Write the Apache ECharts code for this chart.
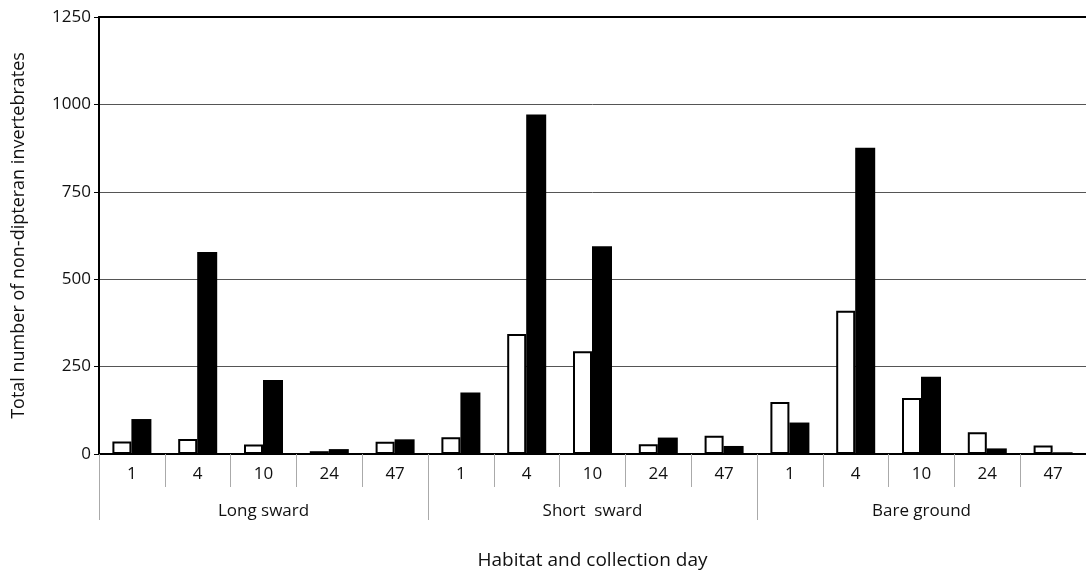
<!DOCTYPE html>
<html>
<head>
<meta charset="utf-8">
<script src="https://cdn.jsdelivr.net/npm/echarts@6/dist/echarts.min.js"></script>
<style>
html,body{margin:0;padding:0;background:#fff;}
#chart{width:1086px;height:575px;}
</style>
</head>
<body>
<div id="chart"></div>
<script>
const days = ['1','4','10','24','47','1','4','10','24','47','1','4','10','24','47'];
const habitats = ['Long sward','Short  sward','Bare ground'];
const whiteValues = [36, 43, 27, 8, 35, 48, 343, 294, 28, 52, 149, 410, 160, 62, 24];
const blackValues = [100, 578, 212, 14, 42, 176, 971, 594, 47, 23, 90, 876, 221, 16, 5];
const yTicks = [0, 250, 500, 750, 1000, 1250];

const FONT = 'Open Sans';
const chart = echarts.init(document.getElementById('chart'));
chart.setOption({
  animation: false,
  backgroundColor: '#fff',
  grid: {left: 99, right: 0, top: 17, bottom: 120, containLabel: false},
  xAxis: [
    {
      type: 'category', data: days, position: 'bottom',
      boundaryGap: true,
      axisLine: {show: true, onZero: false, lineStyle: {color: '#000', width: 2}},
      axisTick: {show: true, interval: 0, length: 33, lineStyle: {color: '#aaa', width: 1}},
      axisLabel: {interval: 0, margin: 12, fontFamily: FONT, fontSize: 17, color: '#111'},
      splitLine: {show: false}
    },
    {
      type: 'category', data: habitats, position: 'bottom',
      boundaryGap: true,
      axisLine: {show: false},
      axisTick: {show: true, interval: 0, length: 66, lineStyle: {color: '#aaa', width: 1}},
      axisLabel: {interval: 0, margin: 49, fontFamily: FONT, fontSize: 17, color: '#111'},
      name: 'Habitat and collection day', nameLocation: 'middle', nameGap: 97,
      nameTextStyle: {fontFamily: FONT, fontSize: 19, color: '#111'},
      splitLine: {show: false}
    },
    {
      type: 'category', data: days, position: 'top',
      axisLine: {show: true, onZero: false, lineStyle: {color: '#000', width: 2}},
      axisTick: {show: false}, axisLabel: {show: false}, splitLine: {show: false}
    }
  ],
  yAxis: {
    type: 'value', min: yTicks[0], max: yTicks[yTicks.length - 1], interval: 250,
    axisLine: {show: true, lineStyle: {color: '#000', width: 2}},
    axisTick: {show: true, length: 5, lineStyle: {color: '#000', width: 1}},
    axisLabel: {margin: 8, fontFamily: FONT, fontSize: 17, color: '#111', formatter: v => String(v)},
    splitLine: {show: true, lineStyle: {color: '#555', width: 1}},
    name: 'Total number of non-dipteran invertebrates', nameLocation: 'middle', nameGap: 71,
    nameTextStyle: {fontFamily: FONT, fontSize: 18, color: '#111'}
  },
  series: [
    {
      type: 'bar', data: whiteValues, xAxisIndex: 0, barWidth: 19, barGap: '0%',
      itemStyle: {color: '#fff', borderColor: '#000', borderWidth: 2}
    },
    {
      type: 'bar', data: blackValues, xAxisIndex: 0, barWidth: 20, barGap: '0%',
      itemStyle: {color: '#000'}
    }
  ]
});
</script>
</body>
</html>
